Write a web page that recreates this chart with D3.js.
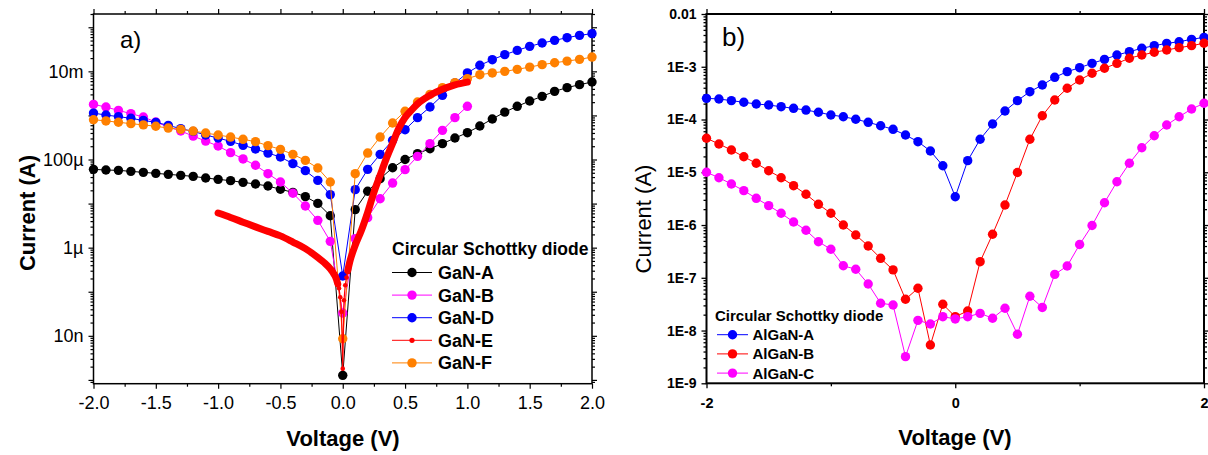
<!DOCTYPE html>
<html><head><meta charset="utf-8">
<script src="https://cdn.jsdelivr.net/npm/d3@7"></script>
<style>
body{margin:0;background:#fff}
svg{display:block}
text{font-family:"Liberation Sans",Arial,sans-serif;fill:#000}
</style>
</head><body>
<svg id="c" width="1208" height="455"></svg>
<script>
// ---------------- DATA (panel a: GaN) ----------------
const voltageGaN = [-2.0,-1.9,-1.8,-1.7,-1.6,-1.5,-1.4,-1.3,-1.2,-1.1,-1.0,-0.9,-0.8,-0.7,-0.6,-0.5,-0.4,-0.3,-0.2,-0.1,0.0,0.1,0.2,0.3,0.4,0.5,0.6,0.7,0.8,0.9,1.0,1.1,1.2,1.3,1.4,1.5,1.6,1.7,1.8,1.9,2.0];
const currentGaNA = [5.98e-5,5.77e-5,5.68e-5,5.38e-5,5.11e-5,4.85e-5,4.61e-5,4.37e-5,4.15e-5,3.80e-5,3.55e-5,3.31e-5,3.03e-5,2.78e-5,2.50e-5,2.11e-5,1.80e-5,1.44e-5,1.01e-5,5.3e-6,1.27e-9,7.3e-6,1.90e-5,3.67e-5,6.5e-5,1.0e-4,1.36e-4,1.76e-4,2.29e-4,3.07e-4,4.06e-4,5.75e-4,8.3e-4,1.19e-3,1.61e-3,2.12e-3,2.71e-3,3.52e-3,4.27e-3,4.99e-3,5.72e-3];
const voltageGaNB = [-2.0,-1.9,-1.8,-1.7,-1.6,-1.5,-1.4,-1.3,-1.2,-1.1,-1.0,-0.9,-0.8,-0.7,-0.6,-0.5,-0.4,-0.3,-0.2,-0.1,0.0,0.1,0.2,0.3,0.4,0.5,0.6,0.7,0.8,0.9,1.0];
const currentGaNB = [1.78e-3,1.55e-3,1.30e-3,1.10e-3,9.2e-4,7.08e-4,5.46e-4,4.43e-4,3.40e-4,2.62e-4,2.02e-4,1.43e-4,1.03e-4,7.4e-5,4.77e-5,3.08e-5,1.72e-5,8.8e-6,4.17e-6,1.39e-6,3.29e-8,1.60e-6,4.8e-6,1.29e-5,2.92e-5,5.89e-5,1.18e-4,2.29e-4,4.59e-4,8.9e-4,1.61e-3];
const currentGaND = [1.13e-3,1.02e-3,9.4e-4,8.6e-4,7.7e-4,6.97e-4,5.96e-4,5.0e-4,4.35e-4,3.59e-4,3.07e-4,2.58e-4,2.10e-4,1.73e-4,1.40e-4,1.14e-4,8.05e-5,5.58e-5,3.36e-5,1.60e-5,2.27e-7,2.07e-5,5.98e-5,1.31e-4,2.72e-4,4.75e-4,8.9e-4,1.55e-3,2.86e-3,5.43e-3,9.2e-3,1.37e-2,1.84e-2,2.39e-2,2.99e-2,3.69e-2,4.39e-2,5.05e-2,5.8e-2,6.56e-2,7.16e-2];
const voltageGaNE = [-1.0,-0.9,-0.8,-0.7,-0.6,-0.5,-0.4,-0.3,-0.2,-0.15,-0.1,-0.07,-0.05,-0.04,-0.03,-0.02,-0.01,0.0,0.01,0.02,0.03,0.04,0.06,0.1,0.15,0.2,0.25,0.3,0.35,0.4,0.45,0.5,0.55,0.6,0.7,0.8,0.9,1.0];
const currentGaNE = [6.11e-6,4.85e-6,3.79e-6,2.96e-6,2.34e-6,1.85e-6,1.34e-6,9.5e-7,6.0e-7,4.6e-7,3.3e-7,2.5e-7,1.9e-7,1.5e-7,1.2e-7,7.5e-8,3.5e-8,1.8e-9,6.4e-8,1.4e-7,2.1e-7,3.0e-7,5.2e-7,1.13e-6,2.47e-6,6.3e-6,1.8e-5,4.4e-5,1.06e-4,2.33e-4,5.1e-4,9.0e-4,1.30e-3,1.83e-3,2.86e-3,3.91e-3,4.94e-3,5.71e-3];
const currentGaNF = [8.0e-4,7.5e-4,7.0e-4,6.5e-4,6.1e-4,5.67e-4,5.17e-4,4.83e-4,4.42e-4,3.98e-4,3.59e-4,3.23e-4,2.87e-4,2.54e-4,2.06e-4,1.70e-4,1.31e-4,9.57e-5,6.4e-5,3.08e-5,8.6e-9,4.77e-5,1.40e-4,3.23e-4,6.73e-4,1.24e-3,2.01e-3,3.01e-3,4.27e-3,5.54e-3,6.83e-3,8.4e-3,9.2e-3,1.0e-2,1.11e-2,1.25e-2,1.42e-2,1.57e-2,1.71e-2,1.87e-2,2.11e-2];

// ---------------- DATA (panel b: AlGaN) ----------------
const voltageAlGaN = [-2.0,-1.9,-1.8,-1.7,-1.6,-1.5,-1.4,-1.3,-1.2,-1.1,-1.0,-0.9,-0.8,-0.7,-0.6,-0.5,-0.4,-0.3,-0.2,-0.1,0.0,0.1,0.2,0.3,0.4,0.5,0.6,0.7,0.8,0.9,1.0,1.1,1.2,1.3,1.4,1.5,1.6,1.7,1.8,1.9,2.0];
const currentAlGaNA = [2.52e-4,2.45e-4,2.28e-4,2.12e-4,1.97e-4,1.88e-4,1.75e-4,1.63e-4,1.51e-4,1.37e-4,1.22e-4,1.13e-4,1.01e-4,8.85e-5,7.63e-5,6.52e-5,5.09e-5,3.80e-5,2.53e-5,1.33e-5,3.44e-6,1.66e-5,4.22e-5,8.22e-5,1.45e-4,2.28e-4,3.37e-4,4.51e-4,6.31e-4,8.07e-4,9.6e-4,1.16e-3,1.38e-3,1.67e-3,1.93e-3,2.24e-3,2.51e-3,2.78e-3,2.98e-3,3.31e-3,3.61e-3];
const currentAlGaNB = [4.41e-5,3.44e-5,2.64e-5,1.97e-5,1.48e-5,1.07e-5,7.89e-6,5.57e-6,3.83e-6,2.47e-6,1.67e-6,1.00e-6,6.48e-7,4.01e-7,2.34e-7,1.41e-7,3.91e-8,6.32e-8,5.32e-9,3.15e-8,1.83e-8,2.35e-8,2.02e-7,6.7e-7,2.40e-6,9.9e-6,4.22e-5,1.18e-4,2.34e-4,3.91e-4,5.61e-4,7.52e-4,9.35e-4,1.16e-3,1.45e-3,1.67e-3,1.88e-3,2.08e-3,2.30e-3,2.51e-3,2.79e-3];
const currentAlGaNC = [1.00e-5,7.89e-6,6.0e-6,4.48e-6,3.21e-6,2.33e-6,1.67e-6,1.14e-6,7.95e-7,4.83e-7,3.47e-7,1.69e-7,1.45e-7,7.62e-8,3.29e-8,3.05e-8,3.2e-9,1.56e-8,1.33e-8,1.83e-8,1.66e-8,1.83e-8,2.12e-8,1.71e-8,2.64e-8,8.5e-9,4.46e-8,2.74e-8,1.16e-7,1.67e-7,4.28e-7,9.8e-7,2.65e-6,6.62e-6,1.48e-5,2.92e-5,4.93e-5,7.87e-5,1.13e-4,1.58e-4,2.03e-4];

// ---------------- TICKS / LABELS ----------------
const xTickValuesGaN = [-2.0,-1.5,-1.0,-0.5,0.0,0.5,1.0,1.5,2.0];
const xTickLabelsGaN = ["-2.0","-1.5","-1.0","-0.5","0.0","0.5","1.0","1.5","2.0"];
const xMinorGaN = [-1.75,-1.25,-0.75,-0.25,0.25,0.75,1.25,1.75];
const yTickValuesGaN = [1e-2,1e-4,1e-6,1e-8];
const yTickLabelsGaN = ["10m","100\u00b5","1\u00b5","10n"];
const xTickValuesAlGaN = [-2,0,2];
const xTickLabelsAlGaN = ["-2","0","2"];
const xMinorAlGaN = [-1,1];
const yTickValuesAlGaN = [1e-2,1e-3,1e-4,1e-5,1e-6,1e-7,1e-8,1e-9];
const yTickLabelsAlGaN = ["0.01","1E-3","1E-4","1E-5","1E-6","1E-7","1E-8","1E-9"];

const legendTitle = "Circular Schottky diode";
const legendGaN = ["GaN-A","GaN-B","GaN-D","GaN-E","GaN-F"];
const legendAlGaN = ["AlGaN-A","AlGaN-B","AlGaN-C"];

const C = {black:"#000000", magenta:"#ff00ff", blue:"#0000ff", red:"#ff0000", orange:"#ff8000"};

const svg = d3.select("#c");

function isDecade(v){ const l=Math.log10(v); return Math.abs(l-Math.round(l))<1e-9; }

function buildAxes(o){
  const x = d3.scaleLinear().domain([-2,2]).range(o.xr);
  const y = d3.scaleLog().domain(o.yd).range(o.yr);
  const g = svg.append("g");
  const x0=o.xr[0], x1=o.xr[1], y0=o.yr[1], y1=o.yr[0];
  const all = y.ticks(30);
  const minor = all.filter(v=>!isDecade(v));
  const major = all.filter(isDecade);
  const lab = v => { const i=o.yTickValues.findIndex(t=>Math.abs(t-v)/t<1e-6); return i>=0?o.yTickLabels[i]:""; };
  const xlab = v => { const i=o.xTickValues.findIndex(t=>Math.abs(t-v)<1e-9); return i>=0?o.xTickLabels[i]:""; };
  const fix = sel => { sel.select(".domain").remove(); sel.selectAll("line").attr("stroke","#000").attr("stroke-width",o.tw); };
  g.append("g").attr("transform",`translate(${x0},0)`).call(d3.axisLeft(y).tickValues(minor).tickSize(3).tickFormat("")).call(fix);
  const ly = g.append("g").attr("transform",`translate(${x0},0)`).call(d3.axisLeft(y).tickValues(major).tickSize(5).tickPadding(o.ypad).tickFormat(lab)).call(fix);
  ly.selectAll("text").attr("font-size",o.yfs).attr("font-weight",o.tickWeight).attr("font-family","Liberation Sans, Arial, sans-serif").attr("fill","#000");
  g.append("g").attr("transform",`translate(${x1},0)`).call(d3.axisRight(y).tickValues(minor).tickSize(3).tickFormat("")).call(fix);
  g.append("g").attr("transform",`translate(${x1},0)`).call(d3.axisRight(y).tickValues(major).tickSize(5).tickFormat("")).call(fix);
  g.append("g").attr("transform",`translate(0,${y1})`).call(d3.axisBottom(x).tickValues(o.xMinor).tickSize(3).tickFormat("")).call(fix);
  const bx = g.append("g").attr("transform",`translate(0,${y1})`).call(d3.axisBottom(x).tickValues(o.xTickValues).tickSize(5).tickPadding(o.xpad).tickFormat(xlab)).call(fix);
  bx.selectAll("text").attr("font-size",o.xfs).attr("font-weight",o.tickWeight).attr("font-family","Liberation Sans, Arial, sans-serif").attr("fill","#000");
  g.append("g").attr("transform",`translate(0,${y0})`).call(d3.axisTop(x).tickValues(o.xMinor).tickSize(3).tickFormat("")).call(fix);
  g.append("g").attr("transform",`translate(0,${y0})`).call(d3.axisTop(x).tickValues(o.xTickValues).tickSize(5).tickFormat("")).call(fix);
  g.append("rect").attr("x",x0).attr("y",y0).attr("width",x1-x0).attr("height",y1-y0)
    .attr("fill","none").attr("stroke","#000").attr("stroke-width",o.fw);
  return {x,y,g};
}

function series(P, vs, is, color, r, lw){
  const pts = vs.map((v,i)=>({v, c:is[i]}));
  const line = d3.line().x(d=>P.x(d.v)).y(d=>P.y(d.c));
  P.g.append("path").datum(pts).attr("d",line).attr("fill","none").attr("stroke",color).attr("stroke-width",lw);
  P.g.append("g").selectAll("circle").data(pts).join("circle")
    .attr("cx",d=>P.x(d.v)).attr("cy",d=>P.y(d.c)).attr("r",r).attr("fill",color);
}

function legend(P, x, yTitle, y0, dy, names, colors, radii, o){
  P.g.append("text").attr("x",x).attr("y",yTitle).attr("font-size",o.tfs).attr("font-weight","bold").text(legendTitle);
  names.forEach((n,i)=>{
    const yy = y0 + i*dy;
    P.g.append("line").attr("x1",x+o.l0).attr("x2",x+o.l1).attr("y1",yy).attr("y2",yy).attr("stroke",colors[i]).attr("stroke-width",1);
    P.g.append("circle").attr("cx",x+(o.l0+o.l1)/2).attr("cy",yy).attr("r",radii[i]).attr("fill",colors[i]);
    P.g.append("text").attr("x",x+o.tx).attr("y",yy).attr("dy","0.36em").attr("font-size",o.efs).attr("font-weight","bold").text(n);
  });
}

// ---------------- PANEL A ----------------
const A = buildAxes({xr:[93.5,592], yr:[383.7,14], yd:[8.2e-10,0.2],
  xTickValues:xTickValuesGaN, xTickLabels:xTickLabelsGaN, xMinor:xMinorGaN,
  yTickValues:yTickValuesGaN, yTickLabels:yTickLabelsGaN,
  yfs:18, xfs:18, tickWeight:"normal", ypad:5, xpad:8, tw:1.2, fw:1.5});

const RA = 4.7;
series(A, voltageGaN, currentGaNA, C.black, RA, 1);
series(A, voltageGaNB, currentGaNB, C.magenta, RA, 1);
series(A, voltageGaN, currentGaND, C.blue, RA, 1);
series(A, voltageGaN, currentGaNF, C.orange, RA, 1);
{
  const pts = voltageGaNE.map((v,i)=>({v, c:currentGaNE[i]}));
  const thin = d3.line().x(d=>A.x(d.v)).y(d=>A.y(d.c));
  const thick = d3.line().defined(d=>Math.abs(d.v)>=0.04).x(d=>A.x(d.v)).y(d=>A.y(d.c)).curve(d3.curveMonotoneX);
  A.g.append("path").datum(pts).attr("d",thin).attr("fill","none").attr("stroke",C.red).attr("stroke-width",1.2);
  A.g.append("path").datum(pts).attr("d",thick).attr("fill","none").attr("stroke",C.red).attr("stroke-width",7)
    .attr("stroke-linecap","round").attr("stroke-linejoin","round");
  A.g.append("g").selectAll("circle").data(pts).join("circle")
    .attr("cx",d=>A.x(d.v)).attr("cy",d=>A.y(d.c)).attr("r",2.3).attr("fill",C.red);
}
legend(A, 392, 255, 272.5, 22.6, legendGaN, [C.black,C.magenta,C.blue,C.red,C.orange], [RA,RA,RA,2.6,RA],
  {tfs:17.5, efs:18, l0:0, l1:40, tx:46});
A.g.append("text").attr("x",120).attr("y",48).attr("font-size",24).text("a)");
A.g.append("text").attr("transform","translate(27,213) rotate(-90)").attr("text-anchor","middle").attr("dy","0.36em")
  .attr("font-size",22).attr("font-weight","bold").text("Current (A)");
A.g.append("text").attr("x",343).attr("y",446).attr("text-anchor","middle").attr("font-size",22).attr("font-weight","bold").text("Voltage (V)");

// ---------------- PANEL B ----------------
const B = buildAxes({xr:[706.5,1204], yr:[383.3,14], yd:[1e-9,1e-2],
  xTickValues:xTickValuesAlGaN, xTickLabels:xTickLabelsAlGaN, xMinor:xMinorAlGaN,
  yTickValues:yTickValuesAlGaN, yTickLabels:yTickLabelsAlGaN,
  yfs:14, xfs:14.5, tickWeight:"bold", ypad:5, xpad:9, tw:1.3, fw:2});

const RB = 4.7;
series(B, voltageAlGaN, currentAlGaNA, C.blue, RB, 1);
series(B, voltageAlGaN, currentAlGaNB, C.red, RB, 1);
series(B, voltageAlGaN, currentAlGaNC, C.magenta, RB, 1);
legend(B, 715, 321, 334.7, 19.2, legendAlGaN, [C.blue,C.red,C.magenta], [RB,RB,RB],
  {tfs:15, efs:15, l0:2, l1:33, tx:37.5});
B.g.append("text").attr("x",722).attr("y",46).attr("font-size",26).text("b)");
B.g.append("text").attr("transform","translate(643,219) rotate(-90)").attr("text-anchor","middle").attr("dy","0.36em")
  .attr("font-size",22).text("Current (A)");
B.g.append("text").attr("x",955).attr("y",445).attr("text-anchor","middle").attr("font-size",22).attr("font-weight","bold").text("Voltage (V)");
</script>
</body></html>
